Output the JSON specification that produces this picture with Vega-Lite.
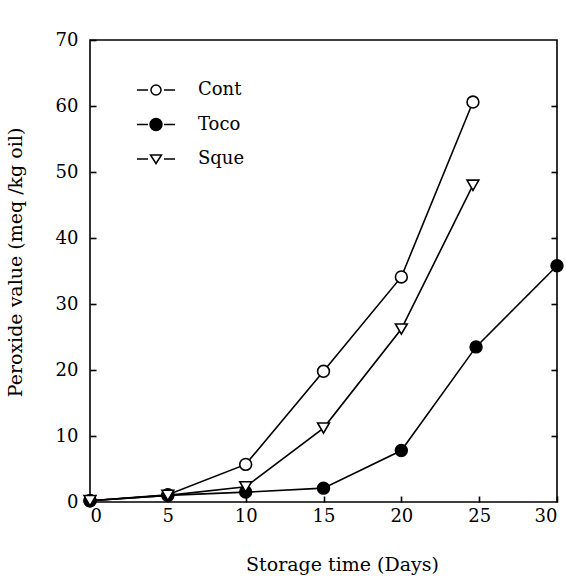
{
  "$schema": "https://vega.github.io/schema/vega-lite/v6.json",
  "autosize": "none",
  "width": 467,
  "height": 462,
  "padding": {"left": 90, "top": 40, "right": 9, "bottom": 77},
  "background": "white",
  "config": {
    "view": {"stroke": "black", "strokeWidth": 1.6},
    "font": "DejaVu Serif",
    "axis": {"grid": false, "domain": false, "tickColor": "black", "labelColor": "black", "titleColor": "black", "labelFont": "DejaVu Serif", "titleFont": "DejaVu Serif", "labelFontSize": 18, "titleFontSize": 19, "titleFontWeight": "normal", "tickWidth": 1.6}
  },
  "data": {
    "values": [
      {"series": "Cont", "day": 0, "pv": 0.2},
      {"series": "Cont", "day": 5, "pv": 1.1},
      {"series": "Cont", "day": 10, "pv": 5.7},
      {"series": "Cont", "day": 15, "pv": 19.8},
      {"series": "Cont", "day": 20, "pv": 34.1},
      {"series": "Cont", "day": 24.6, "pv": 60.6},
      {"series": "Toco", "day": 0, "pv": 0.2},
      {"series": "Toco", "day": 5, "pv": 1.0},
      {"series": "Toco", "day": 10, "pv": 1.5},
      {"series": "Toco", "day": 15, "pv": 2.1},
      {"series": "Toco", "day": 20, "pv": 7.8},
      {"series": "Toco", "day": 24.8, "pv": 23.5},
      {"series": "Toco", "day": 30, "pv": 35.8},
      {"series": "Sque", "day": 0, "pv": 0.2},
      {"series": "Sque", "day": 5, "pv": 1.0},
      {"series": "Sque", "day": 10, "pv": 2.3},
      {"series": "Sque", "day": 15, "pv": 11.2},
      {"series": "Sque", "day": 20, "pv": 26.2},
      {"series": "Sque", "day": 24.6, "pv": 48.0}
    ]
  },
  "layer": [
    {
      "mark": {"type": "line", "color": "black", "strokeWidth": 1.6},
      "encoding": {
        "x": {"field": "day", "type": "quantitative", "scale": {"domain": [0, 30], "nice": false},
              "axis": {"values": [0, 5, 10, 15, 20, 25, 30], "tickSize": -6, "labelPadding": 11, "title": "Storage time (Days)", "titlePadding": 30, "titleX": 252}},
        "y": {"field": "pv", "type": "quantitative", "scale": {"domain": [0, 70], "nice": false},
              "axis": {"values": [0, 10, 20, 30, 40, 50, 60, 70], "tickSize": -6, "labelPadding": 18, "title": "Peroxide value (meq /kg oil)", "titleFontSize": 19, "titlePadding": 30, "titleY": 222}},
        "detail": {"field": "series"}
      }
    },
    {
      "mark": {"type": "point", "size": 140, "stroke": "black", "strokeWidth": 1.6, "opacity": 1, "fillOpacity": 1},
      "encoding": {
        "x": {"field": "day", "type": "quantitative"},
        "y": {"field": "pv", "type": "quantitative",
              "axis": {"orient": "right", "values": [10, 20, 30, 40, 50, 60], "tickSize": -6, "labels": false, "title": null}},
        "shape": {"field": "series", "type": "nominal", "legend": null,
                  "scale": {"domain": ["Cont", "Toco", "Sque"], "range": ["circle", "circle", "triangle-down"]}},
        "fill": {"field": "series", "type": "nominal", "legend": null,
                 "scale": {"domain": ["Cont", "Toco", "Sque"], "range": ["white", "black", "white"]}}
      }
    },
    {
      "transform": [{"filter": "datum.day < 0"}],
      "mark": {"type": "point", "size": 400, "stroke": "black", "strokeWidth": 1.4, "filled": true, "opacity": 1, "fillOpacity": 1, "strokeOpacity": 1},
      "encoding": {
        "x": {"field": "day", "type": "quantitative"},
        "y": {"field": "pv", "type": "quantitative", "axis": null},
        "shape": {"field": "series", "type": "nominal",
                  "scale": {"domain": ["Cont", "Toco", "Sque"], "range": [
                    "M-1.9,0L-0.8,0M0.8,0L1.9,0M-0.5,0A0.5,0.5,0,1,0,0.5,0A0.5,0.5,0,1,0,-0.5,0Z",
                    "M-1.9,0L-0.8,0M0.8,0L1.9,0M-0.6,0A0.6,0.6,0,1,0,0.6,0A0.6,0.6,0,1,0,-0.6,0Z",
                    "M-1.9,0L-0.8,0M0.8,0L1.9,0M-0.55,-0.4L0.55,-0.4L0,0.45Z"]},
                  "legend": {"title": null, "orient": "none", "legendX": 55, "legendY": 39, "symbolSize": 400, "symbolOpacity": 1, "labelOffset": 31, "labelFont": "DejaVu Serif", "labelFontSize": 18, "labelColor": "black", "rowPadding": 14.5, "padding": 0,
                             "encode": {"symbols": {
                               "enter": {"fill": {"signal": "datum.value === 'Toco' ? 'black' : 'white'"}},
                               "update": {
                               "fill": {"signal": "datum.value === 'Toco' ? 'black' : 'white'"},
                               "stroke": {"value": "black"}, "strokeWidth": {"value": 1.4}, "opacity": {"value": 1}, "fillOpacity": {"value": 1}, "strokeOpacity": {"value": 1}}}}}},
        "fill": {"field": "series", "type": "nominal", "legend": null,
                 "scale": {"domain": ["Cont", "Toco", "Sque"], "range": ["white", "black", "white"]}}
      }
    }
  ],
  "resolve": {"scale": {"shape": "independent", "fill": "independent"}, "axis": {"y": "independent"}}
}
